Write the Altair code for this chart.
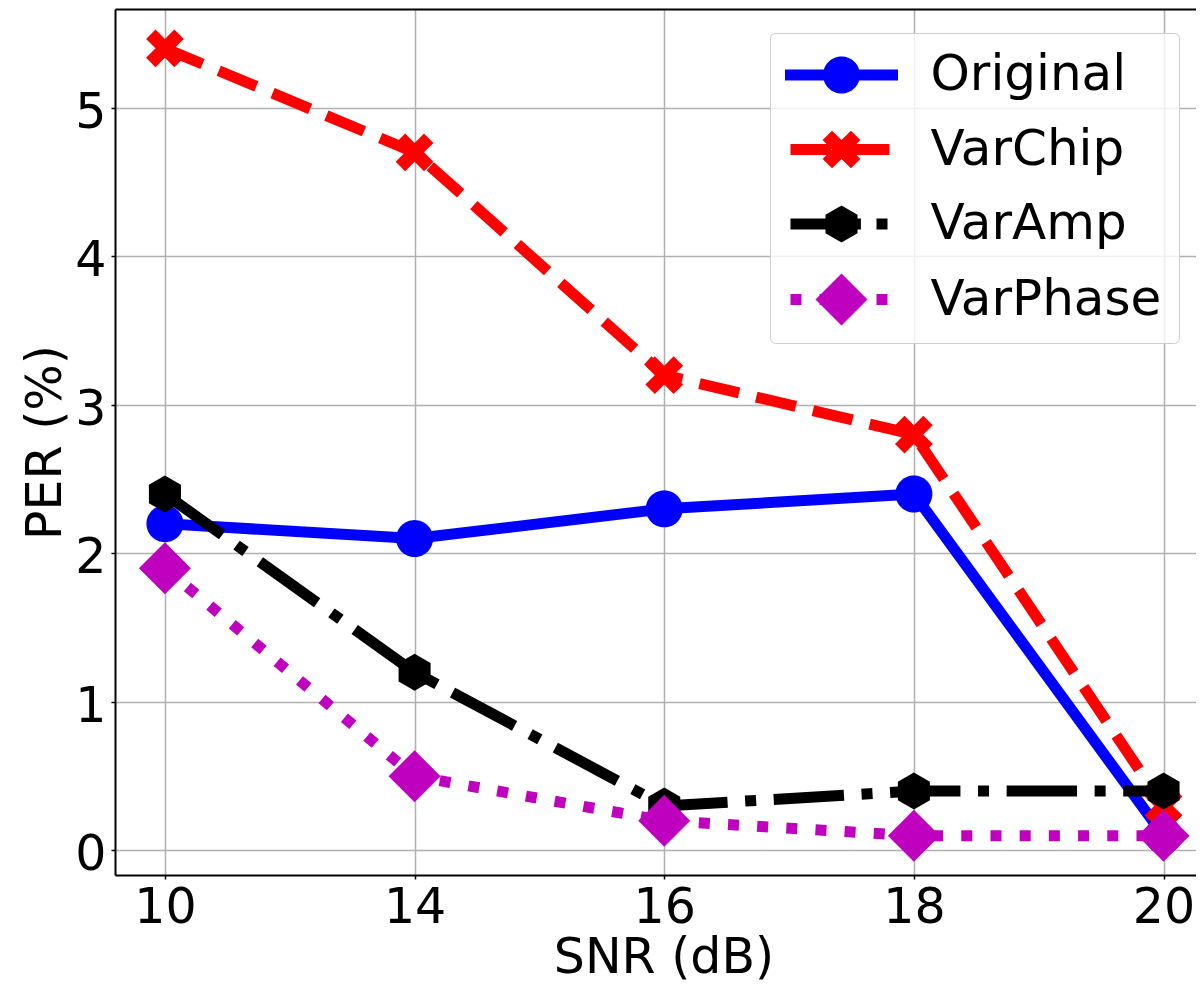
import math
import altair as alt
import pandas as pd

# ---------------- data ----------------
snr_labels = ["10", "14", "16", "18", "20"]
series_names = ["Original", "VarChip", "VarAmp", "VarPhase"]
original = [2.2, 2.1, 2.3, 2.4, 0.1]
varchip = [5.4, 4.7, 3.2, 2.8, 0.3]
varamp = [2.4, 1.2, 0.3, 0.4, 0.4]
varphase = [1.9, 0.5, 0.2, 0.1, 0.1]
y_ticks = [0, 1, 2, 3, 4, 5]

series_values = {"Original": original, "VarChip": varchip,
                 "VarAmp": varamp, "VarPhase": varphase}
rows = []
for s in series_names:
    for i, (lab, v) in enumerate(zip(snr_labels, series_values[s])):
        rows.append({"series": s, "snr": lab, "idx": i, "per": v})
df = pd.DataFrame(rows)

# ---------------- styles ----------------
FONT = "DejaVu Sans"
colors = {"Original": "#0000ff", "VarChip": "#ff0000",
          "VarAmp": "#000000", "VarPhase": "#bf00bf"}
LW = 11
dashes = {"Original": None, "VarChip": [40.7, 17.6],
          "VarAmp": [70.4, 17.6, 11, 17.6], "VarPhase": [11, 18.2]}


def orient(pts):
    a = 0.0
    for i in range(len(pts)):
        x1, y1 = pts[i]
        x2, y2 = pts[(i + 1) % len(pts)]
        a += x1 * y2 - x2 * y1
    return pts if a >= 0 else pts[::-1]


def to_path(polys):
    out = ""
    for p in polys:
        p = orient(p)
        out += "M" + "L".join(f"{x:.2f},{y:.2f}" for x, y in p) + "Z"
    return out


def rect(x0, x1, h=LW / 2):
    return [(x0, -h), (x1, -h), (x1, h), (x0, h)]


# marker shapes in pixels (size=4 -> scale 1)
circle = [(18.5 * math.cos(2 * math.pi * k / 64), 18.5 * math.sin(2 * math.pi * k / 64)) for k in range(64)]
L, W = 20.0, 6.67
plus = [(-W, -L), (W, -L), (W, -W), (L, -W), (L, W), (W, W), (W, L), (-W, L), (-W, W), (-L, W), (-L, -W), (-W, -W)]
c45 = math.cos(math.pi / 4)
xmark = [(x * c45 - y * c45, x * c45 + y * c45) for x, y in plus]
hexagon = [(18.5 * math.cos(math.radians(-90 + 60 * k)), 18.5 * math.sin(math.radians(-90 + 60 * k))) for k in range(6)]
diamond = [(0, -26), (26, 0), (0, 26), (-26, 0)]

markers = {"Original": circle, "VarChip": xmark, "VarAmp": hexagon, "VarPhase": diamond}
marker_paths = {s: to_path([markers[s]]) for s in series_names}

legend_segments = {
    "Original": [rect(-56.5, 56.5)],
    "VarChip": [rect(-51, -10.3), rect(7.3, 48)],
    "VarAmp": [rect(-51, 19.4), rect(35, 46)],
    "VarPhase": [rect(-51, -40), rect(-22, -11), rect(7, 18), rect(35, 46)],
}
legend_paths = [to_path(legend_segments[s] + [markers[s]]) for s in series_names]

# ---------------- scales & axes ----------------
x_scale = alt.Scale(domain=[-0.2, 4.13], nice=False, zero=False)
y_scale = alt.Scale(domain=[-0.165, 5.665], nice=False, zero=False)

label_expr = "[" + ",".join(f"'{l}'" for l in snr_labels) + "][datum.value]"

x_axis = alt.Axis(
    values=list(range(len(snr_labels))), labelExpr=label_expr,
    labelFont=FONT, labelFontSize=49, labelColor="black", labelPadding=4,
    labelFlush=False, labelOverlap=False, labelBound=False,
    tickSize=4, tickColor="black", tickWidth=1.5,
    domainColor="black", domainWidth=2,
    grid=True, gridColor="#b0b0b0", gridWidth=1.5,
    title="SNR (dB)", titleFont=FONT, titleFontSize=49, titleFontWeight="normal",
    titleColor="black", titleX=548.5, titleY=58,
)
y_axis = alt.Axis(
    values=y_ticks, format="d",
    labelFont=FONT, labelFontSize=49, labelColor="black", labelPadding=5,
    labelOffset=4.5, labelFlush=False, labelOverlap=False, labelBound=False,
    tickSize=4, tickColor="black", tickWidth=1.5,
    domainColor="black", domainWidth=2,
    grid=True, gridColor="#b0b0b0", gridWidth=1.5,
    title="PER (%)", titleFont=FONT, titleFontSize=49, titleFontWeight="normal",
    titleColor="black", titleX=-45, titleY=433,
)
top_axis = alt.Axis(orient="top", labels=False, ticks=False, grid=False,
                    domain=True, domainColor="black", domainWidth=2, title=None)

legend = alt.Legend(
    title=None, orient="none", legendX=655, legendY=24,
    labelFont=FONT, labelFontSize=50, labelColor="black", labelLimit=500,
    symbolSize=4, symbolStrokeWidth=0, symbolOffset=29.5, labelOffset=64,
    padding=17, rowPadding=24.5,
    fillColor="rgba(255,255,255,0.8)", strokeColor="#cccccc", cornerRadius=5,
)

# ---------------- layers ----------------
layers = []
for k, s in enumerate(series_names):
    base = alt.Chart(df).transform_filter(alt.datum.series == s)
    xenc = alt.X("idx:Q", scale=x_scale, axis=x_axis if k == 0 else None)
    yenc = alt.Y("per:Q", scale=y_scale, axis=y_axis)
    line_kw = dict(color=colors[s], strokeWidth=LW, strokeJoin="round")
    if dashes[s]:
        line_kw["strokeDash"] = dashes[s]
        line_kw["strokeCap"] = "butt"
    else:
        line_kw["strokeCap"] = "square"
    line = base.mark_line(**line_kw).encode(x=xenc, y=yenc)
    pts = base.mark_point(shape=marker_paths[s], size=4, filled=True,
                          color=colors[s], opacity=1, strokeWidth=0).encode(
        x=alt.X("idx:Q", scale=x_scale, axis=None),
        y=alt.Y("per:Q", scale=y_scale, axis=y_axis),
    )
    layers += [line, pts]

leg_layer = alt.Chart(df).transform_filter("datum.per < -1000").mark_point(
    filled=True, size=4, opacity=1, strokeWidth=0
).encode(
    x=alt.X("idx:Q", scale=x_scale, axis=top_axis),
    y=alt.Y("per:Q", scale=y_scale, axis=y_axis),
    color=alt.Color("series:N", scale=alt.Scale(domain=series_names,
                    range=[colors[s] for s in series_names]), legend=legend),
    shape=alt.Shape("series:N", scale=alt.Scale(domain=series_names,
                    range=legend_paths), legend=legend),
)

chart = alt.layer(*layers, leg_layer).resolve_axis(x="independent").properties(
    width=1081, height=866,
    autosize=alt.AutoSizeParams(type="none"),
    padding={"left": 107, "top": 1, "right": 0, "bottom": 110},
    background="white",
).configure_view(stroke=None).configure(font=FONT)

chart.save("out.html", embed_options={"renderer": "svg", "actions": False})
